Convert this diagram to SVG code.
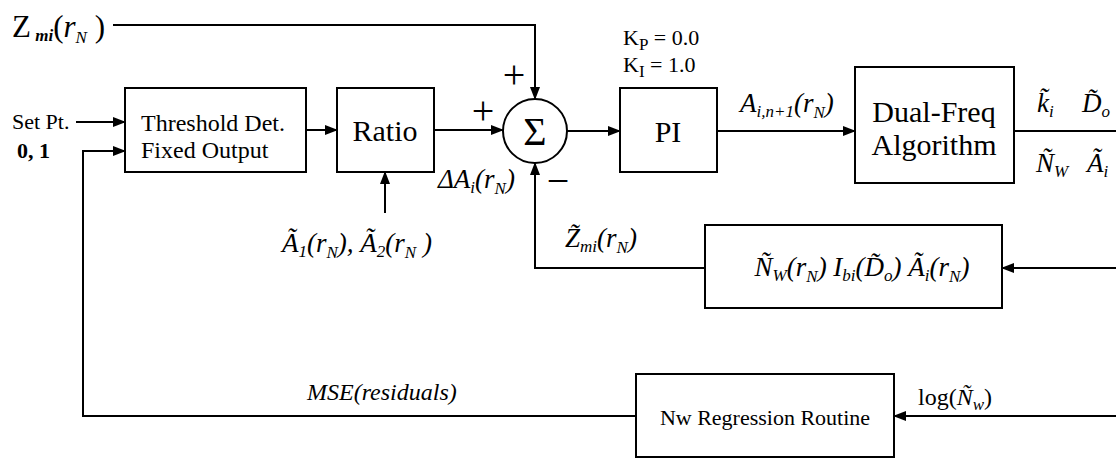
<svg xmlns="http://www.w3.org/2000/svg" width="1116" height="459" viewBox="0 0 1116 459">
<defs>
<marker id="ah" markerWidth="13" markerHeight="10" refX="12" refY="5" orient="auto" markerUnits="userSpaceOnUse">
<path d="M0,0 L13,5 L0,10 z" fill="#000"/>
</marker>
<style>
text{font-family:"Liberation Serif","Times New Roman",serif;fill:#000}
.box{fill:#fff;stroke:#000;stroke-width:2}
.ln{fill:none;stroke:#000;stroke-width:2}
.arr{fill:none;stroke:#000;stroke-width:2;marker-end:url(#ah)}
.t24{font-size:24px}
.t30{font-size:30px}
.t22{font-size:22px}
.sg{font-size:40px;text-anchor:middle}
.m{font-size:27px}
.i{font-style:italic}
.b{font-weight:bold}
.s{font-size:17px}
.mid{text-anchor:middle}
</style>
</defs>
<g id="connectors">
<polyline class="arr" points="113,25 535,25 535,99"/>
<line class="arr" x1="76" y1="122" x2="125" y2="122"/>
<polyline class="arr" points="636,416 83,416 83,151 125,151"/>
<line class="arr" x1="306" y1="130" x2="337" y2="130"/>
<line class="arr" x1="434" y1="130" x2="503" y2="130"/>
<line class="arr" x1="385" y1="213" x2="385" y2="172"/>
<polyline class="arr" points="705,268 535,268 535,163"/>
<line class="arr" x1="567" y1="131" x2="620" y2="131"/>
<line class="arr" x1="717" y1="131" x2="855" y2="131"/>
<line class="ln" x1="1014" y1="131" x2="1116" y2="131"/>
<line class="arr" x1="1116" y1="268" x2="1002" y2="268"/>
<line class="arr" x1="1116" y1="416" x2="894" y2="416"/>
</g>
<g id="labels">
<text x="12" y="37" style="font-size:31px">Z<tspan class="s i b" dy="4"> mi</tspan><tspan dy="-4">(</tspan><tspan class="i">r</tspan><tspan class="s i" dy="6">N</tspan><tspan dy="-6"> )</tspan></text>
<text x="12" y="129" class="t22">Set Pt.</text>
<text x="17" y="158" class="t22 b">0, 1</text>
<text x="483" y="124" class="sg">+</text>
<text x="514" y="88" class="sg">+</text>
<text x="558" y="194" class="sg">−</text>
<text x="282" y="252" class="m i">Ã<tspan class="s" dy="5">1</tspan><tspan dy="-5">(r</tspan><tspan class="s" dy="6">N</tspan><tspan dy="-6">),  Ã</tspan><tspan class="s" dy="5">2</tspan><tspan dy="-5">(r</tspan><tspan class="s" dy="6">N</tspan><tspan dy="-6"> )</tspan></text>
<text x="438" y="188" class="m i">ΔA<tspan class="s" dy="5">i</tspan><tspan dy="-5">(r</tspan><tspan class="s" dy="6">N</tspan><tspan dy="-6">)</tspan></text>
<text x="565" y="247" class="m i">Z̃<tspan class="s" dy="5">mi</tspan><tspan dy="-5">(r</tspan><tspan class="s" dy="6">N</tspan><tspan dy="-6">)</tspan></text>
<text x="623" y="45" class="t22">K<tspan class="s" dy="5">P</tspan><tspan dy="-5"> = 0.0</tspan></text>
<text x="623" y="72" class="t22">K<tspan class="s" dy="5">I</tspan><tspan dy="-5"> = 1.0</tspan></text>
<text x="740" y="112" class="m i">A<tspan class="s" dy="5">i,n+1</tspan><tspan dy="-5">(r</tspan><tspan class="s" dy="6">N</tspan><tspan dy="-6">)</tspan></text>
<text x="1037" y="112" class="m i">k̃<tspan class="s" dy="5">i</tspan></text>
<text x="1082" y="112" class="m i">D̃<tspan class="s" dy="5">o</tspan></text>
<text x="1036" y="172" class="m i">Ñ<tspan class="s" dy="5">W</tspan></text>
<text x="1087" y="172" class="m i">Ã<tspan class="s" dy="5">i</tspan></text>
<text x="918" y="405" class="t24">log(<tspan class="i">Ñ</tspan><tspan class="s i" dy="5">w</tspan><tspan dy="-5">)</tspan></text>
<text x="307" y="400" class="t24 i">MSE(residuals)</text>
</g>
<g id="threshold">
<rect class="box" x="125" y="88" width="181" height="84"/>
<text x="141" y="131" class="t24">Threshold Det.</text>
<text x="141" y="158" class="t24">Fixed Output</text>
</g>
<g id="ratio">
<rect class="box" x="337" y="88" width="97" height="84"/>
<text x="385" y="141" class="t30 mid">Ratio</text>
</g>
<g id="sum">
<circle class="box" cx="535" cy="131" r="32"/>
<text x="535" y="145" class="mid" style="font-size:40px">Σ</text>
</g>
<g id="pi">
<rect class="box" x="620" y="88" width="97" height="84"/>
<text x="668" y="142" class="t30 mid">PI</text>
</g>
<g id="dualfreq">
<rect class="box" x="855" y="67" width="159" height="116"/>
<text x="934" y="122" class="t30 mid">Dual-Freq</text>
<text x="934" y="155" class="t30 mid">Algorithm</text>
</g>
<g id="feedback">
<rect class="box" x="705" y="225" width="297" height="83"/>
<text x="862" y="276" class="m i mid">Ñ<tspan class="s" dy="5">W</tspan><tspan dy="-5">(r</tspan><tspan class="s" dy="6">N</tspan><tspan dy="-6">) I</tspan><tspan class="s" dy="5">bi</tspan><tspan dy="-5">(D̃</tspan><tspan class="s" dy="5">o</tspan><tspan dy="-5">) Ã</tspan><tspan class="s" dy="5">i</tspan><tspan dy="-5">(r</tspan><tspan class="s" dy="6">N</tspan><tspan dy="-6">)</tspan></text>
</g>
<g id="regression">
<rect class="box" x="636" y="374" width="258" height="83"/>
<text x="765" y="425" class="t22 mid">Nw Regression Routine</text>
</g>
</svg>
